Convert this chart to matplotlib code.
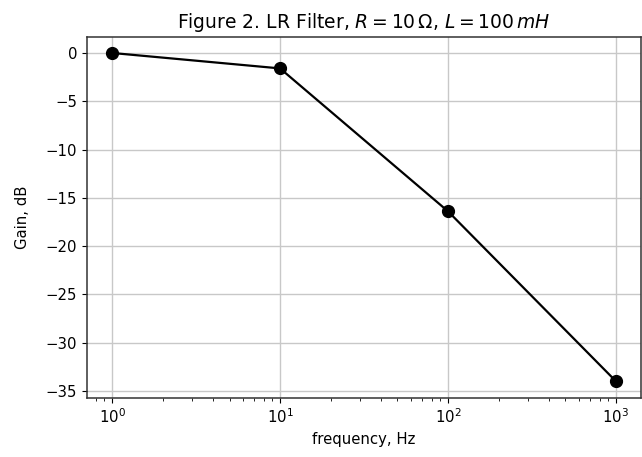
import matplotlib
matplotlib.use('Agg')
import matplotlib.pyplot as plt

# donnees
frequence = [1, 10, 100, 1000]
gain_db = [0.0, -1.6, -16.4, -34.0]

plt.rcParams['font.size'] = 10.7

fig = plt.figure(figsize=(6.42, 4.57), dpi=100)
ax = fig.add_axes([0.1355, 0.130, 0.863, 0.790])

ax.semilogx(frequence, gain_db, color='black', marker='o', markersize=8.5, linewidth=1.6)
ax.grid(True, which='major', color='#c8c8c8', linewidth=1.0)
for sp in ax.spines.values():
    sp.set_color('#333333')
    sp.set_linewidth(1.1)

ax.set_title(r'Figure 2. LR Filter, $R = 10\,\Omega$, $L = 100\,mH$', fontsize=13.5)
ax.set_xlabel('frequency, Hz')
ax.set_ylabel('Gain, dB', labelpad=11)

plt.savefig('out.png', dpi=100)
